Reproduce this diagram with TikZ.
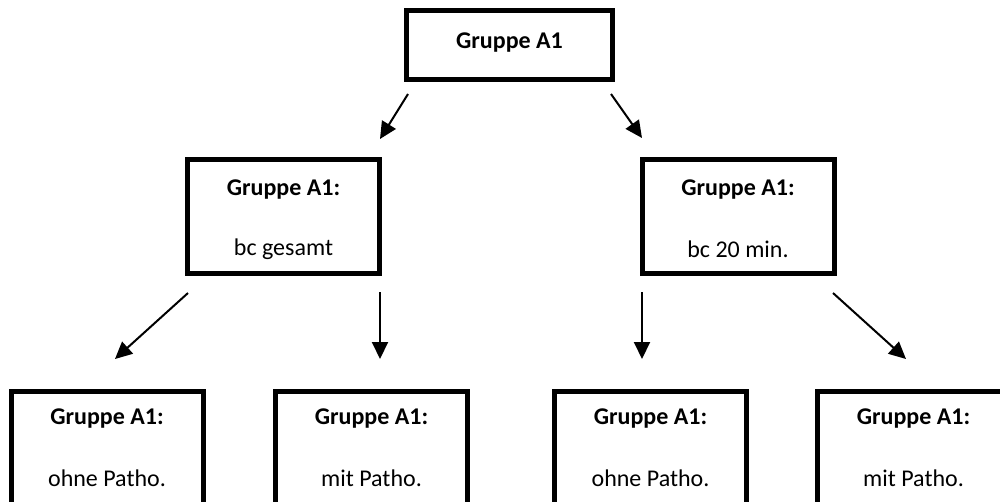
\documentclass[tikz,border=0pt]{standalone}
\usepackage{fontspec}
\setmainfont{Carlito}
\usetikzlibrary{arrows.meta,calc}
\tikzset{
  box/.style={draw=black, line width=5pt, fill=white, inner sep=0pt, anchor=center},
  topbox/.style={box, minimum width=206pt, minimum height=69pt},
  midbox/.style={box, minimum width=192pt, minimum height=114pt},
  txt/.style={font=\fontsize{24}{29}\selectfont, inner sep=0pt, anchor=center},
  arr/.style={line width=2pt, -{Triangle[length=17pt,width=16pt]}}
}
\begin{document}
\begin{tikzpicture}[x=1pt,y=-1pt]
\useasboundingbox (0,0) rectangle (1000,501);
\clip (0,0) rectangle (1000,501);
% boxes
\node[topbox] (top) at (509.5,45) {};
\node[midbox] (ml) at (283.5,216.5) {};
\node[midbox] (mr) at (738,216.5) {};
\node[midbox] (b1) at (107,448) {};
\node[midbox] (b2) at (371.5,448) {};
\node[midbox] (b3) at (650.5,448) {};
\node[midbox] (b4) at (913.5,448) {};
% texts
\node[txt] (ttop) at (509.5,43) {\textbf{Gruppe A1}};
\node[txt] (tml1) at (283.5,190) {\textbf{Gruppe A1:}};
\node[txt] (tml2) at (283.5,249.5) {bc gesamt};
\node[txt] (tmr1) at (738,190) {\textbf{Gruppe A1:}};
\node[txt] (tmr2) at (738,249.5) {bc 20 min.};
\node[txt] (tb11) at (107,419) {\textbf{Gruppe A1:}};
\node[txt] (tb12) at (107,478) {ohne Patho.};
\node[txt] (tb21) at (371.5,419) {\textbf{Gruppe A1:}};
\node[txt] (tb22) at (371.5,478) {mit Patho.};
\node[txt] (tb31) at (650.5,419) {\textbf{Gruppe A1:}};
\node[txt] (tb32) at (650.5,478) {ohne Patho.};
\node[txt] (tb41) at (913.5,419) {\textbf{Gruppe A1:}};
\node[txt] (tb42) at (913.5,478) {mit Patho.};
% arrow end points
\coordinate (s1) at (408,94);  \coordinate (e1) at (380,139);
\coordinate (s2) at (611,94);  \coordinate (e2) at (642,138);
\coordinate (s3) at (188,293); \coordinate (e3) at (115,359);
\coordinate (s4) at (380,292); \coordinate (e4) at (380,359);
\coordinate (s5) at (642,292); \coordinate (e5) at (642,359);
\coordinate (s6) at (833,293); \coordinate (e6) at (906,359);
\draw[arr] (s1) -- (e1);
\draw[arr] (s2) -- (e2);
\draw[arr] (s3) -- (e3);
\draw[arr] (s4) -- (e4);
\draw[arr] (s5) -- (e5);
\draw[arr] (s6) -- (e6);
\end{tikzpicture}
\end{document}
